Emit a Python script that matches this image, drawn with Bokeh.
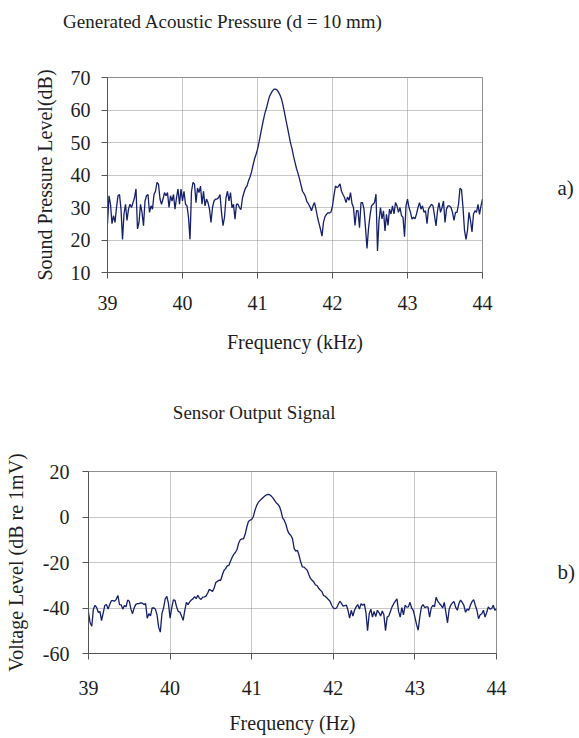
from bokeh.plotting import figure
from bokeh.models import Range1d, FixedTicker, LinearAxis
from bokeh.embed import file_html
from bokeh.resources import INLINE

FONT = "Liberation Serif"
LINE = "#15206b"
TXT = "#1e1e1e"

# ---------------- data ----------------
# sampling grid of the spectra (kHz), 39 .. 44 in 0.02 steps
freq_khz = [round(39 + 0.02 * i, 2) for i in range(251)]

x_ticks = [39, 40, 41, 42, 43, 44]
spl_ticks = [10, 20, 30, 40, 50, 60, 70]
volt_ticks = [-60, -40, -20, 0, 20]
volt_tick_text = {-60: "-60", -40: "-40", -20: "-20", 0: "0", 20: "20"}

# a) Generated acoustic pressure (dB)
spl_db = [
    25, 33.6, 31, 25, 27.5, 25.4, 30, 33.6, 34, 29.5,
    20.2, 28, 31, 26, 29.5, 31, 30, 31.5, 33, 35.7,
    23.4, 25.4, 31, 28.5, 24.4, 32, 33.6, 34, 28.5, 30.5,
    29.5, 34, 35, 37.7, 37.2, 32.6, 31, 32.6, 34.6, 33.6,
    34.6, 30, 33.6, 32, 34, 29.5, 33, 35.7, 31, 35.7,
    32, 35, 31, 30.5, 27, 20.2, 35, 37.7, 37.2, 31.5,
    36, 34.6, 36.6, 31, 35, 30.5, 32.6, 31.5, 29.5, 25.4,
    30, 32, 32.6, 32.6, 33, 34, 28.5, 24.4, 27, 33,
    35, 32,
    34.6, 29.9, 31.0, 26.4, 31.0, 31.0, 29.9, 29.4, 33.0, 34.6,
    36.0, 36.6, 38.2, 39.4, 40.9, 43.0, 44.9, 46.3, 47.9, 50.1,
    52.5, 54.8, 57.1, 59.1, 60.6, 62.5, 64.2, 65.1, 65.9, 66.4,
    66.4, 66.2, 65.5, 64.6, 63.4, 61.5, 59.2, 56.8, 54.6, 52.2,
    49.9, 48.1, 45.8, 43.9, 42.0, 40.5, 38.8, 36.9, 35.0, 34.3,
    33.3, 31.7, 31.1, 30.2, 29.0, 30.5, 31.5, 29.4, 27.0, 25.1,
    23.3, 21.2, 25.5, 27.2, 27.9, 28.4, 28.3, 28.6, 30.5, 33.8,
    36.6, 36.1, 36.5, 37.3, 35.0, 34.0, 33.1, 31.5, 33.2, 32.2,
    34.6, 31.2, 30.0, 24.5, 29.0,
    29, 23.8, 31.5, 31.5, 29.5, 23.8, 17.4, 23.5, 27.5, 30.5,
    31, 31.5, 34.1, 16.6, 26, 30, 26.5, 29, 22.8, 27.9,
    24.5, 29.5, 28, 30.5, 28, 31.5, 30.5, 28.5, 30, 27.5,
    27, 21, 30.5, 32.6, 30, 28.5, 26.4, 27, 26.5, 28,
    30, 31.5, 29.5, 30.5, 28.5, 29, 25, 29.5, 30.3, 31,
    30.5, 27.5, 24.3, 29, 31.5, 28.5, 30, 32, 25.4, 29.5,
    30.5, 30.5, 30, 28.5, 26, 28.5, 28.5, 31, 35.9, 35.5,
    30, 23, 20.2, 23, 28.5, 26, 22.5, 28, 29, 28.5,
    31, 27.9, 30.5, 32.6,
]

# b) Sensor output signal (dB re 1mV)
volt_db = [
    -42, -46.5, -48, -40.5, -38.8, -39.8, -42, -41.5, -45.5, -42.3,
    -38.8, -38.5, -40.5, -38.5, -36.8, -36.8, -37, -36.2, -34.5, -38.5,
    -38.6, -40.5, -38.9, -39.5, -36.5, -37, -40.5, -42.5, -39.9, -38.4,
    -38.1, -38.1, -37.7, -37.9, -38.5, -38.1, -44.5, -42.5, -43.5, -40,
    -39.9, -40.5, -43, -48.5, -50.6, -42.5, -40, -36, -34.9, -38.1,
    -44.5, -39.9, -36.4, -36.6, -39.6, -41.5, -41.8, -43.5, -45.4, -41,
    -37.5, -38.5, -37.3, -36.5, -36, -35, -35.9, -34.4, -35.7, -36.2,
    -35.2, -35.1, -34.8, -33.5, -31.8, -32.2, -32.7, -31.2, -28.8, -28.3,
    -27.8, -27.8, -25.5, -23.5,
    -22.7, -21.5, -21.3, -19.5, -17.8, -16.4, -15.6, -14.3, -11.5, -10,
    -9.6, -9.6, -7.6, -4.4, -2, -1.4, -1.1, 0.2, 2.9, 5,
    6.4, 7.2, 7.9, 8.6, 9.2, 9.7, 9.9, 9.8, 9.2, 8.4,
    7.3, 6.3, 5.6, 4.7, 2.5, -0.5, -1.5, -3.3, -6, -7.4,
    -8.1, -9.5, -13.8, -15, -14.6, -16.8, -19.7, -21.9, -22, -22.7,
    -23.4, -25.3, -27, -27.8, -28.5, -29.8, -30.1, -31.3, -32.1, -32.8,
    -34.5, -34.8, -35.5, -36.3, -37, -38.8, -40, -40.3, -40, -38.5,
    -37, -38, -39.2, -39, -38.7, -41, -44.5, -41, -43.5, -41,
    -39.5, -38.5, -40.5,
    -38.1, -38.8, -38.2, -42, -50, -42.5, -40.5, -44, -41.5, -43.8,
    -41, -42, -43.5, -41.3, -43, -50, -44, -43.5, -41.5, -39.5,
    -38.1, -37, -36, -41.5, -44, -39.8, -43, -38.8, -39.6, -39.5,
    -37.5, -40, -41, -44, -47.2, -49.8, -44, -39.5, -38.5, -39.8,
    -39.5, -39.5, -44, -40, -38.8, -39.5, -35.3, -37, -38, -38.8,
    -40, -37.5, -42, -46.5, -40.5, -38.7, -37.7, -37.2, -39.7, -41,
    -38, -36.5, -37.5, -38.8, -41.9, -40.5, -41, -38.8, -37.2, -36.3,
    -38.8, -41, -44.7, -43, -42.5, -41, -44, -42, -39.5, -40.5,
    -40.3, -38.8, -41, -40.3,
]

# texts placed round the plots
title_a = "Generated Acoustic Pressure (d = 10 mm)"
title_b = "Sensor Output Signal"


def style_axis(ax, size="20px"):
    ax.axis_line_color = "#555555"
    ax.major_tick_line_color = "#555555"
    ax.major_tick_out = 6
    ax.major_tick_in = 0
    ax.minor_tick_line_color = None
    ax.major_label_text_font = FONT
    ax.major_label_text_font_size = size
    ax.major_label_text_color = TXT
    ax.axis_label_text_font = FONT
    ax.axis_label_text_font_size = "20px"
    ax.axis_label_text_font_style = "normal"
    ax.axis_label_text_color = TXT


def text_axis(p, where, pos, text, standoff, size):
    ax = LinearAxis(ticker=FixedTicker(ticks=[pos]),
                    major_label_overrides={pos: text})
    style_axis(ax, size)
    ax.axis_line_color = None
    ax.major_tick_line_color = None
    ax.major_tick_out = 0
    ax.major_label_standoff = standoff
    p.add_layout(ax, where)


def make_fig(y, yr, yticks, xlabel, ylabel, w, h, bl, br, bt, bb,
             xl_std, ax_std, yt_std, yl_std):
    p = figure(width=w, height=h, x_range=Range1d(39, 44), y_range=Range1d(*yr),
               output_backend="svg", toolbar_location=None,
               min_border_left=bl, min_border_right=br,
               min_border_top=bt, min_border_bottom=bb)
    p.background_fill_color = "white"
    p.border_fill_color = "white"
    p.outline_line_color = "#8f8f8f"
    p.line(freq_khz, y, line_color=LINE, line_width=1.3)
    p.xaxis.ticker = FixedTicker(ticks=x_ticks)
    p.yaxis.ticker = FixedTicker(ticks=yticks)
    style_axis(p.xaxis[0])
    style_axis(p.yaxis[0])
    p.xaxis.axis_label = xlabel
    p.yaxis.axis_label = ylabel
    p.xaxis.major_label_standoff = xl_std
    p.xaxis.axis_label_standoff = ax_std
    p.yaxis.major_label_standoff = yt_std
    p.yaxis.axis_label_standoff = yl_std
    for g in (p.xgrid[0], p.ygrid[0]):
        g.grid_line_color = "#8f8f8f"
        g.grid_line_dash = "1 1"
        g.grid_line_width = 1
    p.xgrid.ticker = FixedTicker(ticks=x_ticks)
    p.ygrid.ticker = FixedTicker(ticks=yticks)
    return p


p1 = make_fig(spl_db, (10, 70), spl_ticks, "Frequency (kHz)", "Sound Pressure Level(dB)",
              579, 395, 107, 97, 77, 123, 17, 18, 11, 12)
text_axis(p1, "above", 40.54, title_a, 46, "19px")
text_axis(p1, "right", 36, "a)", 75, "21px")

p2 = make_fig(volt_db, (-60, 20), volt_ticks, "Frequency (Hz)", "Voltage Level (dB re 1mV)",
              579, 341, 88, 83, 76, 83, 21, 14, 13, 13)
p2.yaxis.major_label_overrides = volt_tick_text
text_axis(p2, "above", 41.03, title_b, 49, "19px")
text_axis(p2, "right", -24, "b)", 61, "21px")

open("out.html", "w").write(file_html([p1, p2], INLINE))
